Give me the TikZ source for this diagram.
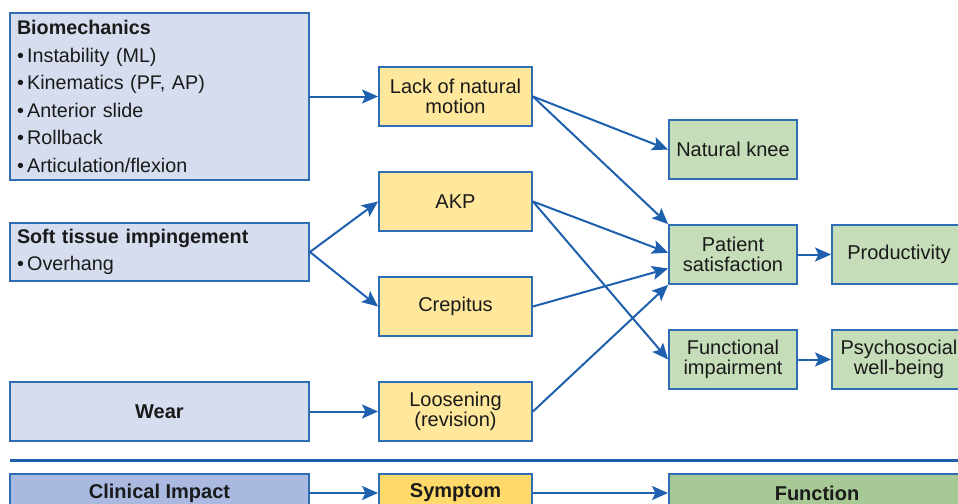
\documentclass[tikz,border=0pt]{standalone}
\usepackage{fontspec}
\setmainfont{Liberation Sans}
\usetikzlibrary{arrows.meta,calc}
\definecolor{bord}{HTML}{2F6DB5}
\definecolor{arr}{HTML}{1E5FAE}
\definecolor{bluefill}{HTML}{D5DDEE}
\definecolor{yelfill}{HTML}{FFE79B}
\definecolor{grnfill}{HTML}{C6DDB9}
\definecolor{bluedark}{HTML}{A9B9E0}
\definecolor{yeldark}{HTML}{FFDA6A}
\definecolor{grndark}{HTML}{A6C995}
\definecolor{txt}{HTML}{1A1A1A}
\begin{document}
\begin{tikzpicture}[x=0.75pt,y=-0.75pt,
  box/.style={draw=bord, line width=1.4pt, inner sep=0pt, text=txt,
    font=\fontsize{15}{15.4}\selectfont, align=center},
  bluebox/.style={box, fill=bluefill, minimum width=224.25pt},
  yelbox/.style={box, fill=yelfill, minimum width=114.75pt, minimum height=44.25pt},
  grnbox/.style={box, fill=grnfill, minimum width=96pt, minimum height=44.25pt},
  listbox/.style={bluebox, align=left, inner xsep=5.25pt, text width=213.75pt,
    font=\fontsize{14.8}{20.6}\selectfont},
  conn/.style={draw=arr, line width=1.5pt, -{Stealth[length=12pt,width=10.5pt,inset=2.5pt]}},
]
\useasboundingbox (0,0) rectangle (958,504);

% left column
\node[listbox, minimum height=125.25pt] (bio) at (159.5,96.5)
  {\textbf{Biomechanics}\\ \textbullet\,Instability (ML)\\ \textbullet\,Kinematics (PF, AP)\\
   \textbullet\,Anterior slide\\ \textbullet\,Rollback\\ \textbullet\,Articulation/flexion};
\node[listbox, minimum height=43.5pt] (soft) at (159.5,252)
  {\textbf{Soft tissue impingement}\\ \textbullet\,Overhang};
\node[bluebox, minimum height=44.25pt] (wear) at (159.5,411.5) {\textbf{Wear}};

% middle column
\node[yelbox] (lack) at (455.5,96.5) {Lack of natural\\motion};
\node[yelbox] (akp) at (455.5,201.5) {AKP};
\node[yelbox] (crep) at (455.5,306.5) {Crepitus};
\node[yelbox] (loos) at (455.5,411.5) {Loosening\\(revision)};

% right columns
\node[grnbox] (nk) at (733,149.5) {Natural knee};
\node[grnbox] (ps) at (733,254.5) {Patient\\satisfaction};
\node[grnbox] (fi) at (733,359.5) {Functional\\impairment};
\node[grnbox, minimum width=100.5pt] (prod) at (899,254.5) {Productivity};
\node[grnbox, minimum width=100.5pt] (psy) at (899,359.5) {Psychosocial\\well-being};

% connectors
\draw[conn] (bio.east |- lack.west) -- (lack.west);
\draw[conn] (soft.east) -- (akp.west);
\draw[conn] (soft.east) -- (crep.west);
\draw[conn] (wear.east) -- (loos.west);
\draw[conn] (lack.east) -- (nk.west);
\draw[conn] (lack.east) -- (ps.north west);
\draw[conn] (akp.east) -- ($(ps.north west)!0.47!(ps.south west)$);
\draw[conn] (akp.east) -- (fi.west);
\draw[conn] (crep.east) -- ($(ps.north west)!0.73!(ps.south west)$);
\draw[conn] (loos.east) -- (ps.south west);
\draw[conn] (ps.east) -- (prod.west);
\draw[conn] (fi.east) -- (psy.west);

% separator
\coordinate (sepL) at (10,460);
\coordinate (sepR) at (958,460);
\draw[draw=arr, line width=2.25pt] (sepL) -- (sepR);

% bottom legend
\node[box, fill=bluedark, minimum width=224.25pt, minimum height=28.5pt] (ci) at (159.5,493) {\textbf{Clinical Impact}};
\node[box, fill=yeldark, minimum width=114.75pt, minimum height=28.5pt] (sy) at (455.5,493) {\textbf{Symptom}};
\node[box, fill=grndark, minimum width=222pt, minimum height=28.5pt] (fu) at (817,493) {\textbf{Function}};
\draw[conn] (ci.east) -- (sy.west);
\draw[conn] (sy.east) -- (fu.west);
\end{tikzpicture}
\end{document}
